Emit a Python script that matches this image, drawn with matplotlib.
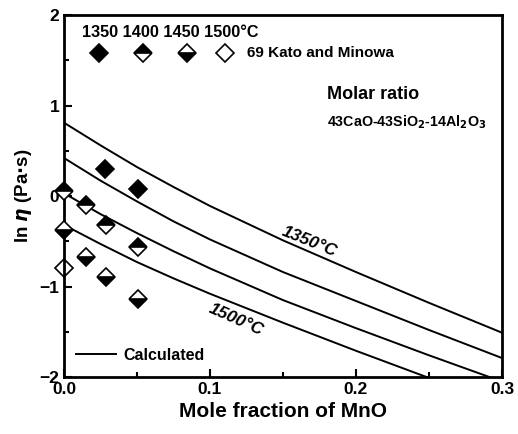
import numpy as np
from matplotlib import pyplot as plt

plt.rcParams['font.family'] = ['Liberation Sans', 'DejaVu Sans']
plt.rcParams['font.weight'] = 'bold'
plt.rcParams['mathtext.default'] = 'bf'

# calculated curves
x_calc = [0.0, 0.025, 0.05, 0.075, 0.1, 0.15, 0.2, 0.25, 0.3]
calc_1350 = [0.81, 0.56, 0.32, 0.10, -0.11, -0.49, -0.84, -1.18, -1.51]
calc_1400 = [0.42, 0.17, -0.06, -0.28, -0.48, -0.84, -1.16, -1.48, -1.79]
calc_1450 = [0.03, -0.20, -0.41, -0.61, -0.80, -1.15, -1.46, -1.76, -2.05]
x_calc_1500 = [0.0, 0.025, 0.05, 0.075, 0.1, 0.15, 0.2, 0.25]
calc_1500 = [-0.32, -0.53, -0.73, -0.91, -1.08, -1.40, -1.71, -2.01]

# measured points (Kato and Minowa)
x_1350 = [0.028, 0.051]
y_1350 = [0.30, 0.08]
x_1400 = [0.0, 0.015, 0.029, 0.051]
y_1400 = [0.06, -0.10, -0.32, -0.56]
x_1450 = [0.0, 0.015, 0.029, 0.051]
y_1450 = [-0.38, -0.67, -0.90, -1.14]
x_1500 = [0.0]
y_1500 = [-0.80]

temps = ['1350', '1400', '1450', '1500']

fig = plt.figure(figsize=(5.18, 4.34), dpi=100)
ax = fig.add_axes([0.1236, 0.1313, 0.8454, 0.8341])

for xs, ys in [(x_calc, calc_1350), (x_calc, calc_1400), (x_calc, calc_1450),
               (x_calc_1500, calc_1500)]:
    ax.plot(xs, ys, color='black', lw=1.4)

mk = dict(marker='D', ms=9, ls='none', mec='black', mew=1.2,
          color='black', markerfacecoloralt='white', clip_on=False)
styles = [dict(fillstyle='full'), dict(fillstyle='top'),
          dict(fillstyle='bottom'), dict(fillstyle='none')]
for (xs, ys), st in zip([(x_1350, y_1350), (x_1400, y_1400),
                         (x_1450, y_1450), (x_1500, y_1500)], styles):
    ax.plot(xs, ys, zorder=3, **mk, **st)

# marker key at the top
key_x = [0.08, 0.18, 0.28, 0.367]
for kx, st in zip(key_x, styles):
    ax.plot([kx], [0.895], transform=ax.transAxes, **mk, **st)
ax.text(0.04, 0.952, ' '.join(temps) + '°C', transform=ax.transAxes,
        fontsize=11.7, va='center', ha='left')
ax.text(0.418, 0.895, '69 Kato and Minowa', transform=ax.transAxes,
        fontsize=11, va='center', ha='left')

ax.text(0.60, 0.78, 'Molar ratio', transform=ax.transAxes, fontsize=13,
        va='center', ha='left')
ax.text(0.60, 0.705, r'43CaO-43SiO$_2$-14Al$_2$O$_3$', transform=ax.transAxes,
        fontsize=10.3, va='center', ha='left')

ax.text(0.168, -0.50, '1350°C', rotation=-22, fontsize=12.5,
        ha='center', va='center', style='italic')
ax.text(0.118, -1.37, '1500°C', rotation=-24, fontsize=12.5,
        ha='center', va='center', style='italic')

ax.plot([], [], color='black', lw=1.4, label='Calculated')
ax.legend(loc='lower left', frameon=False, fontsize=11.5, handlelength=2.5,
          handletextpad=0.45, bbox_to_anchor=(-0.005, 0.0))

ax.set_xlim(0, 0.3)
ax.set_ylim(-2, 2)
ax.set_xticks([0.0, 0.1, 0.2, 0.3])
ax.set_xticklabels(['0.0', '0.1', '0.2', '0.3'])
ax.set_yticks([-2, -1, 0, 1, 2])
ax.set_xticks([0.05, 0.15, 0.25], minor=True)
ax.set_yticks([-1.5, -0.5, 0.5, 1.5], minor=True)
ax.tick_params(which='both', direction='in', width=1.5, labelsize=12.5)
ax.tick_params(which='major', length=6)
ax.tick_params(which='minor', length=3.5)
for s in ax.spines.values():
    s.set_linewidth(2)

ax.set_xlabel('Mole fraction of MnO', fontsize=15, fontweight='bold')
ax.set_ylabel(r'ln $\mathit{\eta}$ (Pa$\cdot$s)', fontsize=13.5, fontweight='bold')

fig.savefig('out.png', dpi=100)
